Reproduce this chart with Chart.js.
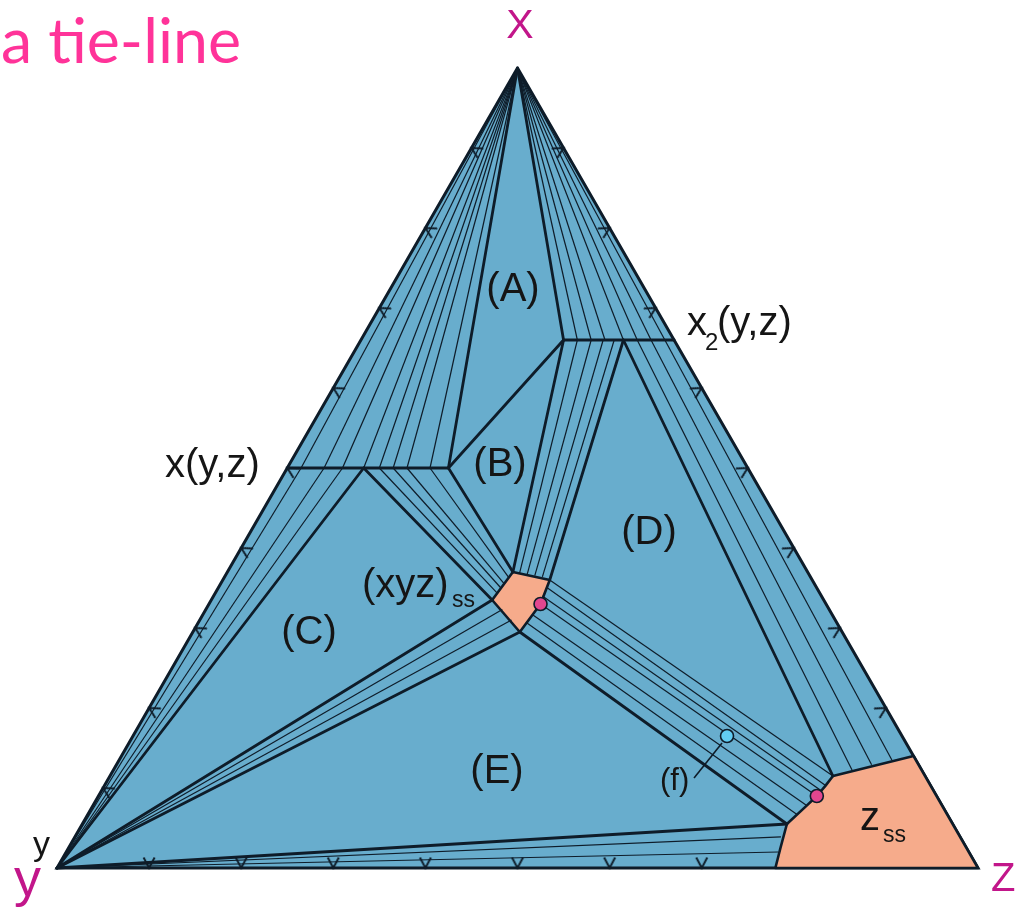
<!DOCTYPE html>
<html>
<head>
<meta charset="utf-8">
<title>Ternary isothermal section</title>
<script src="https://cdn.jsdelivr.net/npm/chart.js@4.4.1/dist/chart.umd.min.js"></script>
<style>
  body { margin: 0; background: #ffffff; }
</style>
</head>
<body>
<canvas id="ternary" width="1017" height="912"></canvas>
<script>
// all compositions in at.% as [X, Y, Z]
var corners = [[100, 0, 0], [0, 100, 0], [0, 0, 100]];

// single-phase fields
var xyzSS = [[37, 32, 31], [36, 28.5, 35.5], [33, 31, 36], [29.5, 35, 35.5], [33.5, 36, 30.5]];
var zSS = [[5.5, 18, 76.5], [7.8, 14.7, 77.5], [9, 13, 78], [10.3, 11.4, 78.3], [11.5, 10, 78.5],
           [14, 0, 86], [0, 0, 100], [0, 22, 78], [2.5, 20.2, 77.3]];

// line compounds x(y,z) and x2(y,z)
var xLine = [[50, 50, 0], [50, 32.5, 17.5]];
var x2Line = [[66, 12, 22], [66, 0, 34]];

// three-phase triangle edges and two-phase field boundaries
var boundaries = [
  [[100, 0, 0], [50, 32.5, 17.5]],
  [[100, 0, 0], [66, 12, 22]],
  [[50, 32.5, 17.5], [66, 12, 22]],
  [[50, 32.5, 17.5], [37, 32, 31]],
  [[66, 12, 22], [37, 32, 31]],
  [[66, 5.5, 28.5], [36, 28.5, 35.5]],
  [[66, 5.5, 28.5], [11.5, 10, 78.5]],
  [[50, 41.7, 8.3], [0, 100, 0]],
  [[50, 41.7, 8.3], [33.5, 36, 30.5]],
  [[0, 100, 0], [33.5, 36, 30.5]],
  [[0, 100, 0], [29.5, 35, 35.5]],
  [[29.5, 35, 35.5], [5.5, 18, 76.5]],
  [[0, 100, 0], [5.5, 18, 76.5]]
];

// tie-lines in the two-phase fields
var tieLines = [
  // X + x(y,z)
  [[100, 0, 0], [50, 48.5, 1.5]], [[100, 0, 0], [50, 46, 4]], [[100, 0, 0], [50, 44, 6]],
  [[100, 0, 0], [50, 41.7, 8.3]], [[100, 0, 0], [50, 40, 10]], [[100, 0, 0], [50, 38.5, 11.5]],
  [[100, 0, 0], [50, 37, 13]], [[100, 0, 0], [50, 34.5, 15.5]],
  // X + x2(y,z)
  [[100, 0, 0], [66, 10.5, 23.5]], [[100, 0, 0], [66, 9, 25]], [[100, 0, 0], [66, 7.5, 26.5]],
  [[100, 0, 0], [66, 5.5, 28.5]], [[100, 0, 0], [66, 4, 30]], [[100, 0, 0], [66, 2.5, 31.5]],
  [[100, 0, 0], [66, 1, 33]],
  // x(y,z) + y
  [[50, 48.5, 1.5], [0, 100, 0]], [[50, 46, 4], [0, 100, 0]], [[50, 44, 6], [0, 100, 0]],
  // x(y,z) + (xyz)ss
  [[50, 40, 10], [34.3, 35, 30.7]], [[50, 38.5, 11.5], [35, 34.3, 30.7]],
  [[50, 37, 13], [35.6, 33.7, 30.7]], [[50, 34.5, 15.5], [36.4, 32.8, 30.8]],
  // x2(y,z) + (xyz)ss
  [[66, 10.5, 23.5], [36.85, 31.35, 31.8]], [[66, 9, 25], [36.7, 30.6, 32.7]],
  [[66, 7.7, 26.3], [36.55, 29.85, 33.6]], [[66, 6.5, 27.5], [36.4, 29.1, 34.5]],
  // x2(y,z) + zss
  [[66, 4, 30], [12.25, 7.55, 80.2]], [[66, 2.5, 31.5], [12.9, 5.1, 82]], [[66, 1, 33], [13.5, 2.6, 83.9]],
  // (xyz)ss + zss
  [[36, 28.5, 35.5], [11.5, 10, 78.5]],
  [[35.1, 29.3, 35.6], [10.3, 11.4, 78.3]], [[34, 30.3, 35.7], [9.7, 12.2, 78.1]],
  [[33, 31, 36], [9, 13, 78]], [[31.7, 32.55, 35.75], [7.8, 14.7, 77.5]],
  [[30.7, 33.7, 35.6], [6.7, 16.3, 77]],
  // y + (xyz)ss
  [[0, 100, 0], [32.3, 35.5, 32.2]], [[0, 100, 0], [31, 35.15, 33.85]],
  // y + zss
  [[0, 100, 0], [3.9, 19.45, 76.65]], [[0, 100, 0], [2, 20.7, 77.3]]
];

// the highlighted tie-line: its two ends and the overall composition (f)
var tieEnds = [[33, 31, 36], [9, 13, 78]];
var alloyF = [[16.5, 19, 64.5]];

// tick marks along the sides, % of the opposite component
var ticksXY = [90, 80, 70, 60, 50, 40, 30, 20, 10];   // X content on the X-y side
var ticksXZ = [90, 80, 70, 60, 50, 40, 30, 20];       // X content on the X-z side
var ticksYZ = [10, 20, 30, 40, 50, 60, 70];           // Z content on the y-z side

var H = Math.sqrt(3) / 2;
function toXY(c) {
  return { x: c[2] / 100 + c[0] / 200, y: c[0] / 100 * H };
}
function pts(list) {
  return list.map(toXY);
}

var LINE = '#0e1c29';
var BLUE = '#68adcd';
var SALMON = '#f6ab8b';

var datasets = [];

// whole triangle
datasets.push({
  data: pts(corners.concat([corners[0]])),
  showLine: true, fill: 'shape', backgroundColor: BLUE,
  borderColor: LINE, borderWidth: 3, borderJoinStyle: 'miter', pointRadius: 0, order: 10
});
// solid solution fields
[xyzSS, zSS].forEach(function(poly) {
  datasets.push({
    data: pts(poly.concat([poly[0]])),
    showLine: true, fill: 'shape', backgroundColor: SALMON,
    borderColor: LINE, borderWidth: 2.6, borderJoinStyle: 'round', pointRadius: 0, order: 9
  });
});
tieLines.forEach(function(seg) {
  datasets.push({
    data: pts(seg), showLine: true, fill: false,
    borderColor: LINE, borderWidth: 1.2, pointRadius: 0, order: 6
  });
});
boundaries.concat([xLine, x2Line]).forEach(function(seg) {
  datasets.push({
    data: pts(seg), showLine: true, fill: false,
    borderColor: LINE, borderWidth: 2.8, borderCapStyle: 'round', pointRadius: 0, order: 5
  });
});

// chevron drawn with its tip at the image centre, arms pointing up
function chevron() {
  var c = document.createElement('canvas');
  c.width = 26; c.height = 26;
  var g = c.getContext('2d');
  g.strokeStyle = LINE;
  g.lineWidth = 1.9;
  g.beginPath();
  g.moveTo(7.5, 2.5); g.lineTo(13, 13); g.lineTo(18.5, 2.5);
  g.stroke();
  return c;
}
var chev = chevron();
datasets.push({
  data: ticksXY.map(function(v) { return toXY([v, 100 - v, 0]); }),
  pointStyle: chev, rotation: 120, pointRadius: 13, order: 3
});
datasets.push({
  data: ticksXZ.map(function(v) { return toXY([v, 0, 100 - v]); }),
  pointStyle: chev, rotation: -120, pointRadius: 13, order: 3
});
datasets.push({
  data: ticksYZ.map(function(v) { return toXY([0, 100 - v, v]); }),
  pointStyle: chev, rotation: 0, pointRadius: 13, order: 3
});

// tie-line ends and alloy f
datasets.push({
  data: pts(tieEnds), pointRadius: 6.5, pointBackgroundColor: '#e2468f',
  pointBorderColor: LINE, pointBorderWidth: 1.6, order: 1
});
datasets.push({
  data: pts(alloyF), pointRadius: 6.5, pointBackgroundColor: '#62cdf3',
  pointBorderColor: LINE, pointBorderWidth: 1.6, order: 1
});

function label(ctx, text, x, y, size, color, align) {
  ctx.font = size + 'px "Liberation Sans", Arial, sans-serif';
  ctx.fillStyle = color || '#151515';
  ctx.textAlign = align || 'left';
  ctx.textBaseline = 'alphabetic';
  ctx.fillText(text, x, y);
}

var labelPlugin = {
  id: 'phaseLabels',
  afterDatasetsDraw: function(chart) {
    var ctx = chart.ctx;
    var sx = chart.scales.x, sy = chart.scales.y;
    ctx.save();

    // field names
    label(ctx, '(A)', 513, 301, 40, null, 'center');
    label(ctx, '(B)', 500, 476, 40, null, 'center');
    label(ctx, '(C)', 309, 644, 40, null, 'center');
    label(ctx, '(D)', 649, 544, 40, null, 'center');
    label(ctx, '(E)', 497, 783, 40, null, 'center');

    label(ctx, '(xyz)', 362, 597, 40);
    label(ctx, 'ss', 452, 607, 23);
    label(ctx, 'x(y,z)', 165, 477, 40);
    label(ctx, 'x', 687, 335, 40);
    label(ctx, '2', 705, 350, 24);
    label(ctx, '(y,z)', 717, 335, 40);
    label(ctx, 'z', 860, 830, 40);
    label(ctx, 'ss', 883, 842, 23);
    label(ctx, 'y', 33, 855, 34);

    // leader from (f) to the alloy point
    var f = toXY(alloyF[0]);
    var fx = sx.getPixelForValue(f.x), fy = sy.getPixelForValue(f.y);
    ctx.strokeStyle = LINE;
    ctx.lineWidth = 1.6;
    ctx.beginPath();
    ctx.moveTo(fx - 5, fy + 7);
    ctx.lineTo(fx - 33, fy + 42);
    ctx.stroke();
    label(ctx, '(f)', 660, 790, 31);

    // component names
    label(ctx, 'X', 520, 38, 41, '#c2168a', 'center');
    label(ctx, 'y', 14, 896, 54, '#c2168a');
    label(ctx, 'Z', 991, 891, 40, '#c2168a');

    // caption
    ctx.font = '62px Lato, "Open Sans", sans-serif';
    ctx.fillStyle = '#ff3399';
    ctx.textAlign = 'left';
    var w = ctx.measureText('a tie-line').width;
    ctx.translate(1, 63);
    ctx.scale(240 / w, 1);
    ctx.fillText('a tie-line', 0, 0);

    ctx.restore();
  }
};

// scale ranges chosen so the y corner sits at (57, 868) and z at (978, 868)
new Chart(document.getElementById('ternary'), {
  type: 'scatter',
  data: { datasets: datasets },
  options: {
    responsive: false,
    animation: false,
    events: [],
    layout: { padding: 0, autoPadding: false },
    plugins: { legend: { display: false }, tooltip: { enabled: false } },
    elements: { line: { tension: 0 } },
    scales: {
      x: { type: 'linear', display: false, min: -57 / 921, max: 960 / 921 },
      y: { type: 'linear', display: false, min: -44 / 923.76, max: 868 / 923.76 }
    }
  },
  plugins: [labelPlugin]
});
</script>
</body>
</html>
